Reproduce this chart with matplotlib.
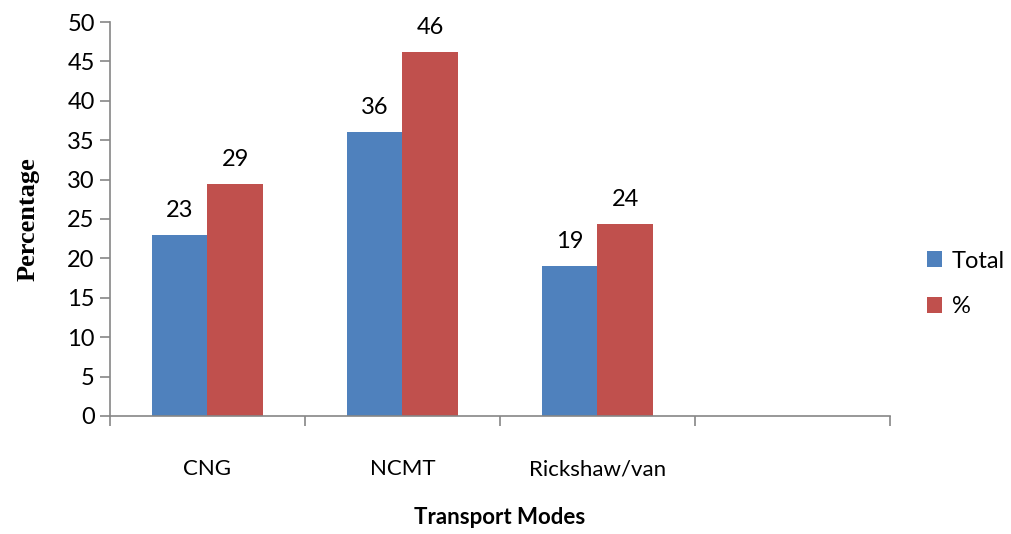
import numpy as np
import matplotlib
matplotlib.use("Agg")
import matplotlib.pyplot as plt

# transport modes survey
modes = ["CNG", "NCMT", "Rickshaw/van", ""]
total = [23, 36, 19]
pct = [29.49, 46.15, 24.36]
total_labels = ["23", "36", "19"]
pct_labels = ["29", "46", "24"]

blue = "#4f81bd"
red = "#c0504d"
grey = "#868686"
font = "Lato"

fig = plt.figure(figsize=(10.11, 5.34), dpi=100)
ax = fig.add_axes([0.1088, 0.221, 0.7715, 0.7378])

x = np.arange(len(total)) + 0.5
w = 0.2857
b1 = ax.bar(x - w / 2, total, w, color=blue, label="Total")
b2 = ax.bar(x + w / 2, pct, w, color=red, label="%")

for bars, labs in ((b1, total_labels), (b2, pct_labels)):
    for r, t in zip(bars, labs):
        ax.annotate(t, (r.get_x() + r.get_width() / 2, r.get_height()),
                    xytext=(0, 10), textcoords="offset points",
                    ha="center", va="bottom", fontsize=17, family=font)

ax.set_xlim(0, 4)
ax.set_ylim(0, 50)
ax.set_yticks(range(0, 51, 5))
ax.set_xticks(np.arange(0, 5), minor=True)
ax.set_xticks(np.arange(4) + 0.5)
ax.set_xticklabels(modes)
ax.tick_params(axis="x", which="major", length=0, pad=31, labelsize=16)
ax.tick_params(axis="x", which="minor", length=7, color=grey, width=1.2)
ax.tick_params(axis="y", length=7, color=grey, width=1.2, labelsize=17, pad=4)
for lab in ax.get_xticklabels() + ax.get_yticklabels():
    lab.set_family(font)

for s in ("top", "right"):
    ax.spines[s].set_visible(False)
for s in ("left", "bottom"):
    ax.spines[s].set_color(grey)
    ax.spines[s].set_linewidth(1.2)

ax.set_ylabel("Percentage", family="Liberation Serif", fontweight="bold",
              fontsize=19, labelpad=20)
ax.set_xlabel("Transport Modes", family=font, fontweight="bold",
              fontsize=16, labelpad=20)

leg = ax.legend(loc="center left", bbox_to_anchor=(1.02, 0.335), frameon=False,
                prop={"family": font, "size": 17}, handlelength=0.65,
                handleheight=0.65, handletextpad=0.4, labelspacing=1.05)

fig.savefig("out.png", dpi=100)
